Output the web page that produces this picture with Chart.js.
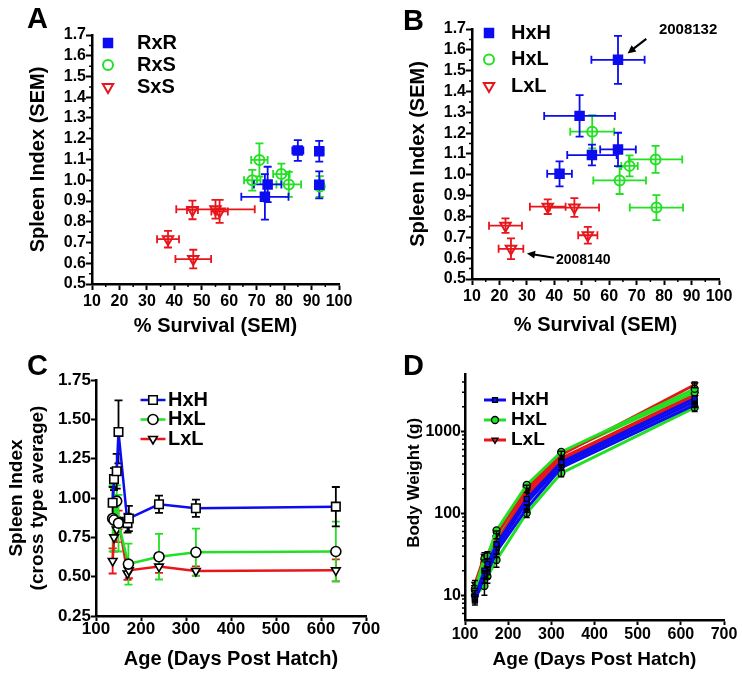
<!DOCTYPE html>
<html>
<head>
<meta charset="utf-8">
<script src="https://cdn.jsdelivr.net/npm/chart.js@4.4.0/dist/chart.umd.min.js"></script>
<style>
  body { margin: 0; background: #fff; }
  #wrap { position: relative; width: 742px; height: 675px; overflow: hidden; }
  #wrap canvas { position: absolute; left: 0; top: 0; }
  .lbl { position: absolute; font: bold 29px "Liberation Sans", Arial, sans-serif; color: #000; line-height: 1; }
</style>
</head>
<body>
<div id="wrap">
  <canvas id="cA" width="742" height="675"></canvas>
  <canvas id="cB" width="742" height="675"></canvas>
  <canvas id="cC" width="742" height="675"></canvas>
  <canvas id="cD" width="742" height="675"></canvas>
  <div class="lbl" style="left:27px;top:4px">A</div>
  <div class="lbl" style="left:403px;top:6px">B</div>
  <div class="lbl" style="left:27px;top:351px">C</div>
  <div class="lbl" style="left:403px;top:351px">D</div>
</div>
<script>
// ---- panel A : spleen index vs survival ----
const aRxRX  = [85, 92.8, 92.8, 74, 73];
const aRxRY  = [1.143, 1.14, 0.978, 0.98, 0.92];
const aRxRXe = [2, 1.5, 1.5, 5, 8.6];
const aRxRYe = [0.05, 0.05, 0.065, 0.085, 0.11];
const aRxSX  = [71, 68.4, 79, 81.7, 93];
const aRxSY  = [1.098, 1.0, 1.03, 0.98, 0.97];
const aRxSXe = [3, 3, 3, 4.5, 1.5];
const aRxSYe = [0.08, 0.05, 0.05, 0.06, 0.05];
const aSxSX  = [46.6, 55, 56.5, 37.7, 46.9];
const aSxSY  = [0.857, 0.86, 0.85, 0.716, 0.62];
const aSxSXe = [2, 14.3, 3, 4, 6.5];
const aSxSYe = [0.045, 0.045, 0.055, 0.04, 0.045];

// ---- panel B ----
const bHxHX  = [63.2, 49.2, 53.7, 63.2, 41.9];
const bHxHY  = [1.552, 1.283, 1.095, 1.122, 1.005];
const bHxHXe = [9.7, 12.9, 9, 6.5, 4.5];
const bHxHYe = [0.115, 0.1, 0.05, 0.08, 0.06];
const bHxLX  = [53.8, 67.4, 76.9, 63.8, 77.2];
const bHxLY  = [1.207, 1.043, 1.074, 0.973, 0.843];
const bHxLXe = [8, 3, 9.7, 9.6, 9.7];
const bHxLYe = [0.08, 0.05, 0.065, 0.065, 0.06];
const bLxLX  = [37.6, 47.3, 52.2, 22.2, 24.2];
const bLxLY  = [0.847, 0.843, 0.71, 0.756, 0.645];
const bLxLXe = [6.5, 9, 3.5, 6, 4.5];
const bLxLYe = [0.035, 0.045, 0.04, 0.035, 0.05];

const abXTicks = [10, 20, 30, 40, 50, 60, 70, 80, 90, 100];
const abYTicks = [0.5, 0.6, 0.7, 0.8, 0.9, 1.0, 1.1, 1.2, 1.3, 1.4, 1.5, 1.6, 1.7];
const abXMinor = [15, 25, 35, 45, 55, 65, 75, 85, 95];
const abYMinor = [0.55, 0.65, 0.75, 0.85, 0.95, 1.05, 1.15, 1.25, 1.35, 1.45, 1.55, 1.65];

// ---- panel C : spleen index by age ----
const cHxHX = [137, 140, 146, 150, 170, 173, 240, 322, 633];
const cHxHY = [0.97, 1.12, 1.17, 1.42, 0.84, 0.87, 0.96, 0.935, 0.945];
const cHxHE = [0.1, 0.07, 0.11, 0.2, 0.06, 0.08, 0.055, 0.055, 0.125];
const cHxLX = [137, 140, 146, 150, 172, 240, 322, 633];
const cHxLY = [0.87, 0.86, 0.98, 0.84, 0.58, 0.627, 0.655, 0.66];
const cHxLE = [0.21, 0.2, 0.1, 0.18, 0.13, 0.145, 0.15, 0.19];
const cLxLX = [137, 140, 146, 150, 170, 173, 240, 322, 633];
const cLxLY = [0.6, 0.75, 0.8, 0.86, 0.52, 0.54, 0.564, 0.536, 0.54];
const cLxLE = [0.08, 0.09, 0.08, 0.06, 0.04, 0.05, 0.04, 0.03, 0.07];
const cXTicks = [100, 200, 300, 400, 500, 600, 700];
const cYTicks = [0.25, 0.5, 0.75, 1.0, 1.25, 1.5, 1.75];

// ---- panel D : body weight by age (one line per cross) ----
const dAge  = [123, 145, 152, 173, 243, 323, 632];
const dHxH1 = [9.5, 20, 24, 42, 150, 420, 2500];
const dHxH2 = [9, 18, 22, 38, 135, 390, 2300];
const dHxH3 = [8.6, 17, 19, 34, 115, 360, 2100];
const dHxL1 = [12, 28, 30, 62, 222, 560, 3300];
const dHxL2 = [11.5, 25, 27, 52, 210, 540, 3000];
const dHxL3 = [10, 13, 17, 27, 101, 309, 1950];
const dLxL1 = [13.7, 30, 31, 55, 200, 520, 3700];
const dLxL2 = [12.5, 26, 29, 50, 185, 470, 2800];
const dLxL3 = [11, 23, 26, 45, 165, 440, 2600];
const dHxH3E = [1, 3, 3, 5, 12, 25, 150];
const dHxL3E = [1.5, 3, 3, 5, 12, 30, 200];
const dLxL1E = [1.5, 3, 3, 6, 20, 50, 300];
const dXTicks = [100, 200, 300, 400, 500, 600, 700];
const dYTicks = [10, 100, 1000];
const dYMinor = [6, 7, 8, 9, 20, 30, 40, 50, 60, 70, 80, 90, 200, 300, 400, 500, 600, 700, 800, 900, 2000, 3000, 4000];

const FONT = '"Liberation Sans", Arial, sans-serif';
const BLUE = '#0c0cf0', GREEN = '#22e022', RED = '#e8151b';

const zip = (xs, ys) => xs.map((x, i) => ({x, y: ys[i]}));

// error bars (x and/or y) drawn through the chart scales
const errBars = {
  id: 'errBars',
  draw(chart, opts) {
    const {ctx, scales: {x, y}} = chart;
    const cap = opts.cap || 4;
    const sets = chart.data.datasets;
    for (let i = sets.length - 1; i >= 0; i--) {
      const ds = sets[i];
      if (!ds.xErr && !ds.yErr) continue;
      ctx.save();
      ctx.strokeStyle = ds.errColor || ds.borderColor;
      ctx.lineWidth = opts.width || 1.8;
      ctx.beginPath();
      ds.data.forEach((p, j) => {
        const px = x.getPixelForValue(p.x), py = y.getPixelForValue(p.y);
        if (ds.xErr) {
          const l = x.getPixelForValue(p.x - ds.xErr[j]), r = x.getPixelForValue(p.x + ds.xErr[j]);
          ctx.moveTo(l, py); ctx.lineTo(r, py);
          ctx.moveTo(l, py - cap); ctx.lineTo(l, py + cap);
          ctx.moveTo(r, py - cap); ctx.lineTo(r, py + cap);
        }
        if (ds.yErr) {
          const t = y.getPixelForValue(p.y + ds.yErr[j]), b = y.getPixelForValue(p.y - ds.yErr[j]);
          ctx.moveTo(px, t); ctx.lineTo(px, b);
          ctx.moveTo(px - cap, t); ctx.lineTo(px + cap, t);
          ctx.moveTo(px - cap, b); ctx.lineTo(px + cap, b);
        }
      });
      ctx.stroke();
      ctx.restore();
    }
  },
  beforeDatasetsDraw(chart, args, opts) { if (!opts.after) this.draw(chart, opts); },
  afterDatasetsDraw(chart, args, opts) { if (opts.after) this.draw(chart, opts); }
};

const minorTicks = {
  id: 'minorTicks',
  afterDraw(chart, args, opts) {
    const {ctx, chartArea: {left, bottom}, scales: {x, y}} = chart;
    ctx.save();
    ctx.strokeStyle = '#000';
    ctx.lineWidth = 1.5;
    ctx.beginPath();
    (opts.x || []).forEach(v => { const p = x.getPixelForValue(v); ctx.moveTo(p, bottom); ctx.lineTo(p, bottom + opts.len); });
    (opts.y || []).forEach(v => { const p = y.getPixelForValue(v); ctx.moveTo(left, p); ctx.lineTo(left - opts.len, p); });
    ctx.stroke();
    ctx.restore();
  }
};

// legend drawn inside the plot like the original
const panelLegend = {
  id: 'panelLegend',
  afterDraw(chart, args, o) {
    const ctx = chart.ctx;
    const items = chart.data.datasets.filter(d => d.inLegend);
    ctx.save();
    items.forEach((d, i) => {
      const y = o.y + i * o.dy;
      if (o.lineLen) {
        ctx.strokeStyle = d.borderColor;
        ctx.lineWidth = d.borderWidth;
        ctx.beginPath();
        ctx.moveTo(o.x - o.lineLen / 2, y); ctx.lineTo(o.x + o.lineLen / 2, y);
        ctx.stroke();
      }
      ctx.fillStyle = d.pointBackgroundColor || d.backgroundColor;
      ctx.strokeStyle = d.pointBorderColor || d.borderColor;
      ctx.lineWidth = d.pointBorderWidth;
      Chart.helpers.drawPoint(ctx, {pointStyle: d.pointStyle, radius: d.pointRadius, rotation: d.pointRotation || 0, borderWidth: d.pointBorderWidth}, o.x, y);
      ctx.fillStyle = '#000';
      ctx.font = 'bold ' + o.size + 'px ' + FONT;
      ctx.textBaseline = 'middle';
      ctx.textAlign = 'left';
      ctx.fillText(d.label, o.tx, y);
    });
    ctx.restore();
  }
};

// text + arrow notes, anchored in data units
const notes = {
  id: 'notes',
  afterDraw(chart, args, o) {
    const {ctx, scales: {x, y}} = chart;
    ctx.save();
    (o.items || []).forEach(n => {
      ctx.fillStyle = '#000';
      ctx.font = 'bold ' + n.size + 'px ' + FONT;
      ctx.textBaseline = 'middle';
      ctx.fillText(n.text, x.getPixelForValue(n.tx), y.getPixelForValue(n.ty));
      const x1 = x.getPixelForValue(n.from[0]), y1 = y.getPixelForValue(n.from[1]);
      const x2 = x.getPixelForValue(n.to[0]), y2 = y.getPixelForValue(n.to[1]);
      const a = Math.atan2(y2 - y1, x2 - x1), h = 9;
      ctx.strokeStyle = '#000';
      ctx.lineWidth = 2.2;
      ctx.beginPath();
      ctx.moveTo(x1, y1);
      ctx.lineTo(x2 - Math.cos(a) * h * 0.8, y2 - Math.sin(a) * h * 0.8);
      ctx.stroke();
      ctx.beginPath();
      ctx.moveTo(x2, y2);
      ctx.lineTo(x2 - h * Math.cos(a - 0.45), y2 - h * Math.sin(a - 0.45));
      ctx.lineTo(x2 - h * Math.cos(a + 0.45), y2 - h * Math.sin(a + 0.45));
      ctx.closePath();
      ctx.fill();
    });
    ctx.restore();
  }
};

// one axis; size = thickness of the axis box, so titles land where they should
function axis(dir, o) {
  return {
    type: o.type || 'linear',
    min: o.min, max: o.max,
    afterBuildTicks: s => { s.ticks = o.ticks.map(v => ({value: v})); },
    afterFit: s => { if (dir === 'x') s.height = o.size; else s.width = o.size; },
    border: {display: true, color: '#000', width: 2.5},
    grid: {display: true, drawOnChartArea: false, drawTicks: true, tickLength: o.tickLen, tickWidth: 2, tickColor: '#000'},
    ticks: {color: '#000', font: {family: FONT, size: o.tickSize, weight: 'bold'}, padding: o.tickPad,
            maxRotation: 0, autoSkip: false, callback: o.fmt},
    title: {display: true, text: o.title, color: '#000', padding: 0,
            font: {family: FONT, size: o.titleSize, weight: 'bold', lineHeight: o.titleLH || 1.2}}
  };
}

function baseOptions(pad, x, y, extra) {
  return {
    responsive: false, animation: false, devicePixelRatio: 1, events: [],
    layout: {padding: pad},
    scales: {x, y},
    plugins: Object.assign({legend: {display: false}, tooltip: {enabled: false}}, extra)
  };
}

function markerSet(label, xs, ys, style, color, open, xe, ye) {
  return {
    label, data: zip(xs, ys), xErr: xe, yErr: ye, inLegend: true,
    pointStyle: style, pointRotation: style === 'triangle' ? 180 : 0,
    pointRadius: style === 'circle' ? 5 : 6, pointBorderWidth: 2,
    borderColor: color, backgroundColor: open ? 'rgba(0,0,0,0)' : color,
    pointBorderColor: color, pointBackgroundColor: open ? 'rgba(0,0,0,0)' : color,
    showLine: false
  };
}

const fmt1 = v => v.toFixed(1);
const fmt2 = v => v.toFixed(2);
const fmt0 = v => String(v);

// ---------------- A ----------------
new Chart(document.getElementById('cA'), {
  type: 'scatter',
  data: {datasets: [
    markerSet('RxR', aRxRX, aRxRY, 'rect', BLUE, false, aRxRXe, aRxRYe),
    markerSet('RxS', aRxSX, aRxSY, 'circle', GREEN, true, aRxSXe, aRxSYe),
    markerSet('SxS', aSxSX, aSxSY, 'triangle', RED, true, aSxSXe, aSxSYe)
  ]},
  options: baseOptions({left: 26, top: 35, right: 403, bottom: 337},
    axis('x', {min: 10, max: 100, ticks: abXTicks, size: 54, tickLen: 6, tickSize: 16, tickPad: 2, fmt: fmt0, title: '% Survival (SEM)', titleSize: 20}),
    axis('y', {min: 0.5, max: 1.7, ticks: abYTicks, size: 66, tickLen: 6, tickSize: 16, tickPad: 0, fmt: fmt1, title: 'Spleen Index (SEM)', titleSize: 20}),
    {errBars: {cap: 4, width: 1.8}, minorTicks: {x: abXMinor, y: abYMinor, len: 3},
     panelLegend: {x: 108, tx: 137, y: 43, dy: 22, size: 20}}),
  plugins: [errBars, minorTicks, panelLegend]
});

// ---------------- B ----------------
new Chart(document.getElementById('cB'), {
  type: 'scatter',
  data: {datasets: [
    markerSet('HxH', bHxHX, bHxHY, 'rect', BLUE, false, bHxHXe, bHxHYe),
    markerSet('HxL', bHxLX, bHxLY, 'circle', GREEN, true, bHxLXe, bHxLYe),
    markerSet('LxL', bLxLX, bLxLY, 'triangle', RED, true, bLxLXe, bLxLYe)
  ]},
  options: baseOptions({left: 406, top: 29, right: 23, bottom: 338},
    axis('x', {min: 10, max: 100, ticks: abXTicks, size: 58, tickLen: 6, tickSize: 16, tickPad: 2, fmt: fmt0, title: '% Survival (SEM)', titleSize: 20}),
    axis('y', {min: 0.5, max: 1.7, ticks: abYTicks, size: 66, tickLen: 6, tickSize: 16, tickPad: 0, fmt: fmt1, title: 'Spleen Index (SEM)', titleSize: 20}),
    {errBars: {cap: 4, width: 1.8}, minorTicks: {x: abXMinor, y: abYMinor, len: 3},
     panelLegend: {x: 489, tx: 511, y: 33, dy: 26.5, size: 20},
     notes: {items: [
       {text: '2008132', size: 15, tx: 78.1, ty: 1.697, from: [73.5, 1.653], to: [66.7, 1.583]},
       {text: '2008140', size: 14, tx: 40.6, ty: 0.592, from: [39.9, 0.602], to: [30.0, 0.623]}
     ]}}),
  plugins: [errBars, minorTicks, panelLegend, notes]
});

// ---------------- C ----------------
function ageSet(label, xs, ys, e, style, color, errColor) {
  return {
    label, data: zip(xs, ys), yErr: e, errColor, inLegend: true,
    showLine: true, tension: 0, borderColor: color, borderWidth: 2.5,
    pointStyle: style, pointRotation: style === 'triangle' ? 180 : 0,
    pointRadius: style === 'rect' ? 6 : 5, pointBorderWidth: 1.6,
    pointBorderColor: '#000', pointBackgroundColor: '#fff', backgroundColor: '#fff'
  };
}
new Chart(document.getElementById('cC'), {
  type: 'scatter',
  data: {datasets: [
    ageSet('HxH', cHxHX, cHxHY, cHxHE, 'rect', BLUE, '#000'),
    ageSet('HxL', cHxLX, cHxLY, cHxLE, 'circle', GREEN, GREEN),
    ageSet('LxL', cLxLX, cLxLY, cLxLE, 'triangle', RED, RED)
  ]},
  options: baseOptions({left: 6, top: 380, right: 376, bottom: 4},
    axis('x', {min: 100, max: 700, ticks: cXTicks, size: 55, tickLen: 5, tickSize: 17, tickPad: -2, fmt: fmt0, title: 'Age (Days Post Hatch)', titleSize: 20}),
    axis('y', {min: 0.25, max: 1.75, ticks: cYTicks, size: 90, tickLen: 5, tickSize: 17, tickPad: 0, fmt: fmt2, title: ['Spleen Index', '(cross type average)'], titleSize: 19, titleLH: 1.12}),
    {errBars: {cap: 4, width: 1.8}, panelLegend: {x: 153, tx: 168, y: 400, dy: 19.5, size: 20, lineLen: 25}}),
  plugins: [errBars, panelLegend]
});

// ---------------- D ----------------
function weightSet(label, ys, e, style, color, legend) {
  return {
    label, data: zip(dAge, ys), yErr: e, errColor: '#000', inLegend: legend,
    showLine: true, tension: 0, borderColor: color, borderWidth: 3,
    pointStyle: style, pointRotation: style === 'triangle' ? 180 : 0,
    pointRadius: 3.5, pointBorderWidth: 1.3,
    pointBorderColor: '#000', pointBackgroundColor: color, backgroundColor: color
  };
}
new Chart(document.getElementById('cD'), {
  type: 'scatter',
  data: {datasets: [
    weightSet('HxH', dHxH1, null, 'rect', BLUE, true),
    weightSet('HxL', dHxL1, null, 'circle', GREEN, true),
    weightSet('LxL', dLxL1, dLxL1E, 'triangle', RED, true),
    weightSet('HxL', dHxL2, null, 'circle', GREEN, false),
    weightSet('LxL', dLxL2, null, 'triangle', RED, false),
    weightSet('LxL', dLxL3, null, 'triangle', RED, false),
    weightSet('HxH', dHxH2, null, 'rect', BLUE, false),
    weightSet('HxH', dHxH3, dHxH3E, 'rect', BLUE, false),
    weightSet('HxL', dHxL3, dHxL3E, 'circle', GREEN, false)
  ]},
  options: baseOptions({left: 403.8, top: 374, right: 18, bottom: 3.6},
    axis('x', {min: 100, max: 700, ticks: dXTicks, size: 51.4, tickLen: 5, tickSize: 16, tickPad: 0, fmt: fmt0, title: 'Age (Days Post Hatch)', titleSize: 19}),
    // leading no-break spaces nudge the rotated title up, as in the original
    axis('y', {type: 'logarithmic', min: 5, max: 5000, ticks: dYTicks, size: 61.2, tickLen: 4, tickSize: 16, tickPad: 0, fmt: fmt0, title: '\u00a0\u00a0\u00a0\u00a0\u00a0\u00a0Body Weight (g)', titleSize: 17}),
    {errBars: {cap: 3, width: 1.5, after: true}, minorTicks: {y: dYMinor, len: 3},
     panelLegend: {x: 495, tx: 511, y: 400, dy: 20, size: 19, lineLen: 22}}),
  plugins: [errBars, minorTicks, panelLegend]
});
</script>
</body>
</html>
